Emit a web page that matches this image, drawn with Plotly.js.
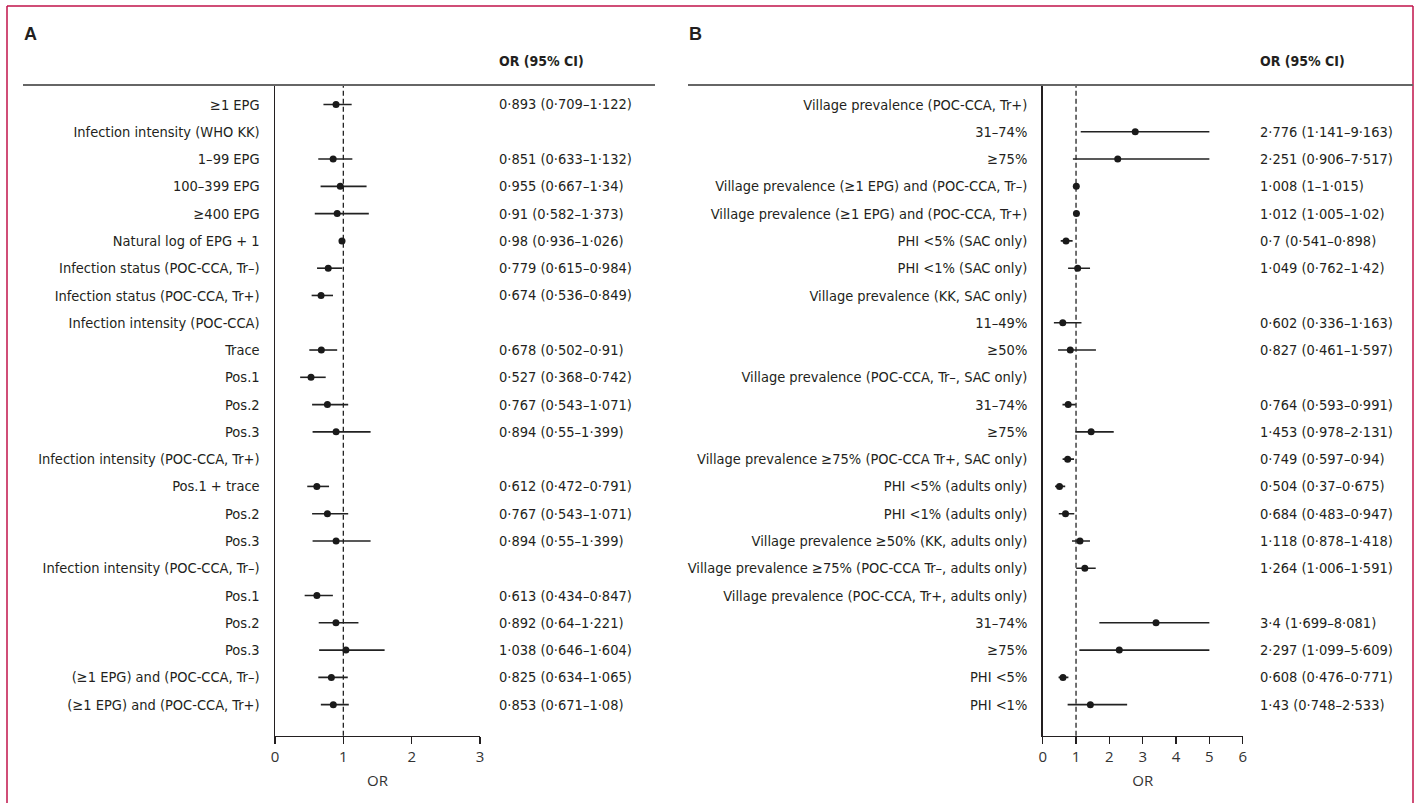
<!DOCTYPE html>
<html>
<head>
<meta charset="utf-8">
<script src="https://cdn.plot.ly/plotly-3.0.1.min.js"></script>
<style>html,body{margin:0;padding:0;background:#fff;}#chart{width:1416px;height:803px;}</style>
</head>
<body>
<div id="chart"></div>
<script>
// ---------- Panel A data ----------
const labelsA = [
  "≥1 EPG",
  "Infection intensity (WHO KK)",
  "1–99 EPG",
  "100–399 EPG",
  "≥400 EPG",
  "Natural log of EPG + 1",
  "Infection status (POC-CCA, Tr–)",
  "Infection status (POC-CCA, Tr+)",
  "Infection intensity (POC-CCA)",
  "Trace",
  "Pos.1",
  "Pos.2",
  "Pos.3",
  "Infection intensity (POC-CCA, Tr+)",
  "Pos.1 + trace",
  "Pos.2",
  "Pos.3",
  "Infection intensity (POC-CCA, Tr–)",
  "Pos.1",
  "Pos.2",
  "Pos.3",
  "(≥1 EPG) and (POC-CCA, Tr–)",
  "(≥1 EPG) and (POC-CCA, Tr+)"
];
const orA = [0.893, null, 0.851, 0.955, 0.91, 0.98, 0.779, 0.674, null, 0.678, 0.527, 0.767, 0.894, null, 0.612, 0.767, 0.894, null, 0.613, 0.892, 1.038, 0.825, 0.853];
const loA = [0.709, null, 0.633, 0.667, 0.582, 0.936, 0.615, 0.536, null, 0.502, 0.368, 0.543, 0.55, null, 0.472, 0.543, 0.55, null, 0.434, 0.64, 0.646, 0.634, 0.671];
const hiA = [1.122, null, 1.132, 1.34, 1.373, 1.026, 0.984, 0.849, null, 0.91, 0.742, 1.071, 1.399, null, 0.791, 1.071, 1.399, null, 0.847, 1.221, 1.604, 1.065, 1.08];

// ---------- Panel B data ----------
const labelsB = [
  "Village prevalence (POC-CCA, Tr+)",
  "31–74%",
  "≥75%",
  "Village prevalence (≥1 EPG) and (POC-CCA, Tr–)",
  "Village prevalence (≥1 EPG) and (POC-CCA, Tr+)",
  "PHI &lt;5% (SAC only)",
  "PHI &lt;1% (SAC only)",
  "Village prevalence (KK, SAC only)",
  "11–49%",
  "≥50%",
  "Village prevalence (POC-CCA, Tr–, SAC only)",
  "31–74%",
  "≥75%",
  "Village prevalence ≥75% (POC-CCA Tr+, SAC only)",
  "PHI &lt;5% (adults only)",
  "PHI &lt;1% (adults only)",
  "Village prevalence ≥50% (KK, adults only)",
  "Village prevalence ≥75% (POC-CCA Tr–, adults only)",
  "Village prevalence (POC-CCA, Tr+, adults only)",
  "31–74%",
  "≥75%",
  "PHI &lt;5%",
  "PHI &lt;1%"
];
const orB = [null, 2.776, 2.251, 1.008, 1.012, 0.7, 1.049, null, 0.602, 0.827, null, 0.764, 1.453, 0.749, 0.504, 0.684, 1.118, 1.264, null, 3.4, 2.297, 0.608, 1.43];
const loB = [null, 1.141, 0.906, 1, 1.005, 0.541, 0.762, null, 0.336, 0.461, null, 0.593, 0.978, 0.597, 0.37, 0.483, 0.878, 1.006, null, 1.699, 1.099, 0.476, 0.748];
const hiB = [null, 9.163, 7.517, 1.015, 1.02, 0.898, 1.42, null, 1.163, 1.597, null, 0.991, 2.131, 0.94, 0.675, 0.947, 1.418, 1.591, null, 8.081, 5.609, 0.771, 2.533];

const ticksA = [0, 1, 2, 3];
const ticksB = [0, 1, 2, 3, 4, 5, 6];
const headerText = "OR (95% CI)";
const axisTitle = "OR";
const clipB = 5; // CI lines in panel B are drawn up to OR = 5

// ---------- styling / geometry ----------
const W = 1416, H = 803;
const px = v => v / W;
const py = v => 1 - v / H;
const LABEL_FONT = "'DejaVu Sans Condensed', 'Liberation Sans Narrow', sans-serif";
const TICK_FONT = "'Open Sans', 'DejaVu Sans', sans-serif";
const TXT = "#231f20";
const FS = 14.5;
const rows = labelsA.map((_, i) => i);
const yTop = 85, yBot = 735.7, row0 = 104.5, rowStep = 27.28;
const yRange = [(yBot - row0) / rowStep, (yTop - row0) / rowStep];

function fmt(v) { return String(v).replace('.', '·'); }
function orText(o, l, h) { return o == null ? '' : fmt(o) + ' (' + fmt(l) + '–' + fmt(h) + ')'; }

function forestTrace(orv, lo, hi, xa, ya, clip) {
  const up = orv.map((o, i) => o == null ? null : Math.min(hi[i], clip) - o);
  const dn = orv.map((o, i) => o == null ? null : o - lo[i]);
  return {
    type: 'scatter', mode: 'markers', x: orv, y: rows, xaxis: xa, yaxis: ya,
    marker: {size: 7, color: '#1a1a1a'},
    error_x: {type: 'data', symmetric: false, array: up, arrayminus: dn, width: 0, thickness: 1.6, color: '#222'},
    hoverinfo: 'skip', showlegend: false, cliponaxis: false
  };
}

const data = [
  forestTrace(orA, loA, hiA, 'x', 'y', Infinity),
  forestTrace(orB, loB, hiB, 'x2', 'y2', clipB)
];

const xCommon = {
  showline: true, linecolor: TXT, linewidth: 1.5, ticks: 'outside', ticklen: 7, tickwidth: 1.5, tickcolor: TXT,
  showgrid: false, zeroline: false, tickfont: {family: TICK_FONT, size: 15, color: '#333'},
  title: {text: axisTitle, font: {family: TICK_FONT, size: 15, color: '#333'}, standoff: 10}, fixedrange: true
};
const yCommon = {
  range: yRange, tickvals: rows, showline: true, linecolor: TXT, linewidth: 1.5, ticks: '', showgrid: false,
  zeroline: false, tickfont: {family: LABEL_FONT, size: FS, color: TXT}, ticklabelstandoff: 11, fixedrange: true,
  domain: [py(yBot), py(yTop)]
};

const annotations = [];
function addOr(orv, lo, hi, xPix, yref) {
  orv.forEach((o, i) => {
    if (o == null) return;
    annotations.push({xref: 'paper', yref: yref, x: px(xPix), y: i, xanchor: 'left', yanchor: 'middle',
      text: orText(o, lo[i], hi[i]), showarrow: false, font: {family: LABEL_FONT, size: FS, color: TXT}});
  });
}
addOr(orA, loA, hiA, 497, 'y');
addOr(orB, loB, hiB, 1258, 'y2');
[497, 1258].forEach(xp => {
  annotations.push({xref: 'paper', yref: 'paper', x: px(xp), y: py(61), xanchor: 'left', yanchor: 'middle',
    text: '<b>' + headerText + '</b>', showarrow: false, font: {family: LABEL_FONT, size: 14, color: TXT}});
});
[[22, 'A'], [687, 'B']].forEach(([xp, t]) => {
  annotations.push({xref: 'paper', yref: 'paper', x: px(xp), y: py(34), xanchor: 'left', yanchor: 'middle',
    text: '<b>' + t + '</b>', showarrow: false, font: {family: "'Liberation Sans', Arial, sans-serif", size: 18, color: TXT}});
});

const border = '#c0134a';
const shapes = [
  {type: 'line', xref: 'paper', yref: 'paper', x0: px(7), x1: px(7), y0: py(6), y1: 0, line: {color: border, width: 1.5}},
  {type: 'line', xref: 'paper', yref: 'paper', x0: px(7), x1: px(1413), y0: py(6), y1: py(6), line: {color: border, width: 1.5}},
  {type: 'line', xref: 'paper', yref: 'paper', x0: px(1413), x1: px(1413), y0: py(6), y1: 0, line: {color: border, width: 1.5}},
  {type: 'line', xref: 'paper', yref: 'paper', x0: px(23), x1: px(655), y0: py(85), y1: py(85), line: {color: '#666', width: 2}},
  {type: 'line', xref: 'paper', yref: 'paper', x0: px(688), x1: px(1413), y0: py(85), y1: py(85), line: {color: '#666', width: 2}},
  {type: 'line', xref: 'x', yref: 'y domain', x0: 1, x1: 1, y0: 0, y1: 1, line: {color: '#222', width: 1.3, dash: '5px,3px'}, layer: 'below'},
  {type: 'line', xref: 'x2', yref: 'y2 domain', x0: 1, x1: 1, y0: 0, y1: 1, line: {color: '#222', width: 1.3, dash: '5px,3px'}, layer: 'below'}
];

const layout = {
  width: W, height: H, margin: {l: 0, r: 0, t: 0, b: 0}, paper_bgcolor: '#fff', plot_bgcolor: 'rgba(0,0,0,0)',
  showlegend: false,
  xaxis: Object.assign({}, xCommon, {domain: [px(275), px(480)], range: [0, 3], tickvals: ticksA, anchor: 'y'}),
  yaxis: Object.assign({}, yCommon, {ticktext: labelsA, anchor: 'x'}),
  xaxis2: Object.assign({}, xCommon, {domain: [px(1042.7), px(1242.7)], range: [0, 6], tickvals: ticksB, anchor: 'y2'}),
  yaxis2: Object.assign({}, yCommon, {ticktext: labelsB, anchor: 'x2'}),
  annotations: annotations, shapes: shapes
};

Plotly.newPlot('chart', data, layout, {displayModeBar: false, staticPlot: true});
</script>
</body>
</html>
